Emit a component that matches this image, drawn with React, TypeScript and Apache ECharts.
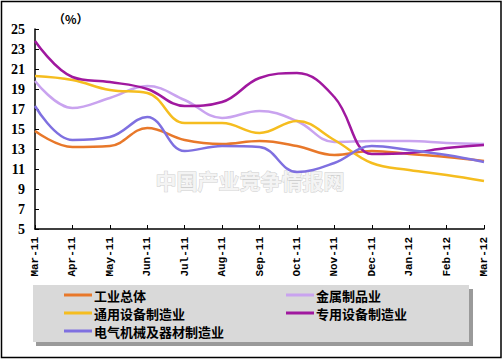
import React, { useEffect, useRef } from "react";
import * as echarts from "echarts";

const categories = ["Mar-11", "Apr-11", "May-11", "Jun-11", "Jul-11", "Aug-11", "Sep-11", "Oct-11", "Nov-11", "Dec-11", "Jan-12", "Feb-12", "Mar-12"];
const yTicks = [5, 7, 9, 11, 13, 15, 17, 19, 21, 23, 25];

const industryTotal = [14.8, 13.2, 13.3, 15.1, 13.9, 13.5, 13.8, 13.3, 12.4, 12.8, 12.5, 12.2, 11.8];
const metalProducts = [19.8, 17.1, 18.1, 19.3, 17.9, 16.1, 16.8, 15.8, 13.7, 13.8, 13.8, 13.6, 13.5];
const generalEquip = [20.3, 19.9, 18.9, 18.6, 15.6, 15.6, 14.6, 15.8, 13.9, 11.6, 10.9, 10.4, 9.8];
const specialEquip = [23.8, 20.2, 19.7, 19.0, 17.3, 17.7, 20.1, 20.6, 18.2, 12.5, 12.6, 13.1, 13.4];
const electrical = [17.3, 13.9, 14.2, 16.2, 12.8, 13.3, 13.2, 10.7, 11.6, 13.3, 12.9, 12.4, 11.7];

const seriesDefs = [
  { name: "工业总体", data: industryTotal, color: "#e8782a" },
  { name: "金属制品业", data: metalProducts, color: "#c9a3ef" },
  { name: "通用设备制造业", data: generalEquip, color: "#f5bd1f" },
  { name: "专用设备制造业", data: specialEquip, color: "#a0189f" },
  { name: "电气机械及器材制造业", data: electrical, color: "#7f70e0" },
];

export default function App() {
  const ref = useRef<HTMLDivElement>(null);
  useEffect(() => {
    document.body.style.margin = "0";
    const chart = echarts.init(ref.current!, null, { renderer: "svg" });
    const legendText = {
      fontFamily: "Noto Sans CJK SC",
      fontWeight: "bold" as const,
      fontSize: 13,
      lineHeight: 14,
      height: 14,
      color: "#000",
      padding: [0, 0, 0, -3],
    };
    const legendCommon = {
      orient: "vertical",
      top: 288,
      itemGap: 4,
      itemWidth: 28,
      itemHeight: 3,
      icon: "rect",
      padding: 0,
      textStyle: legendText,
      selectedMode: false,
    };
    chart.setOption({
      animation: false,
      backgroundColor: "#fff",
      grid: { left: 35, right: 19, top: 29, bottom: 132 },
      xAxis: {
        type: "category",
        data: categories,
        boundaryGap: false,
        axisLine: { lineStyle: { color: "#000", width: 1.5 } },
        axisTick: { show: true, inside: true, length: 4, lineStyle: { color: "#000" }, alignWithLabel: true },
        axisLabel: {
          rotate: 90,
          interval: 0,
          margin: 8,
          fontFamily: "Liberation Mono",
          fontWeight: "bold",
          fontSize: 11,
          color: "#000",
        },
        splitLine: { show: false },
      },
      yAxis: {
        type: "value",
        min: yTicks[0],
        max: yTicks[yTicks.length - 1],
        interval: 2,
        axisLine: { show: true, lineStyle: { color: "#000", width: 1.5 } },
        axisTick: { show: true, inside: true, length: 4, lineStyle: { color: "#000" } },
        axisLabel: {
          margin: 10,
          fontFamily: "Liberation Serif",
          fontWeight: "bold",
          fontSize: 14,
          color: "#000",
        },
        splitLine: { show: false },
      },
      legend: [
        { ...legendCommon, data: ["工业总体", "通用设备制造业", "电气机械及器材制造业"], left: 64 },
        { ...legendCommon, data: ["金属制品业", "专用设备制造业"], left: 286 },
      ],
      graphic: [
        { type: "rect", z: -2, shape: { x: 1.5, y: 1.5, width: 499.5, height: 356 }, style: { fill: "#fff", stroke: "#000", lineWidth: 1.5 } },
        { type: "rect", z: -1, shape: { x: 36, y: 289, width: 437, height: 57 }, style: { fill: "#9a9a9a" } },
        { type: "rect", z: -1, shape: { x: 33, y: 285, width: 436, height: 57 }, style: { fill: "#d9d9d9" } },
        {
          type: "text",
          left: 53,
          top: 12,
          style: { text: "（%）", fontFamily: "Noto Sans CJK SC", fontWeight: "bold", fontSize: 12, fill: "#000" },
        },
        {
          type: "text",
          x: 250,
          y: 180,
          z: 0,
          style: {
            text: "中国产业竞争情报网",
            fontFamily: "Noto Sans CJK SC",
            fontWeight: "bold",
            fontSize: 21,
            fill: "#f4f4f4",
            stroke: "#cfcfcf",
            lineWidth: 1,
            align: "center",
            verticalAlign: "middle",
          },
        },
      ],
      series: seriesDefs.map((s) => ({
        name: s.name,
        type: "line",
        data: s.data,
        smooth: 0.4,
        showSymbol: false,
        symbol: "none",
        lineStyle: { color: s.color, width: 2.5 },
        itemStyle: { color: s.color },
        z: 3,
      })),
    });
    return () => chart.dispose();
  }, []);
  return <div ref={ref} style={{ width: 503, height: 361 }} />;
}
